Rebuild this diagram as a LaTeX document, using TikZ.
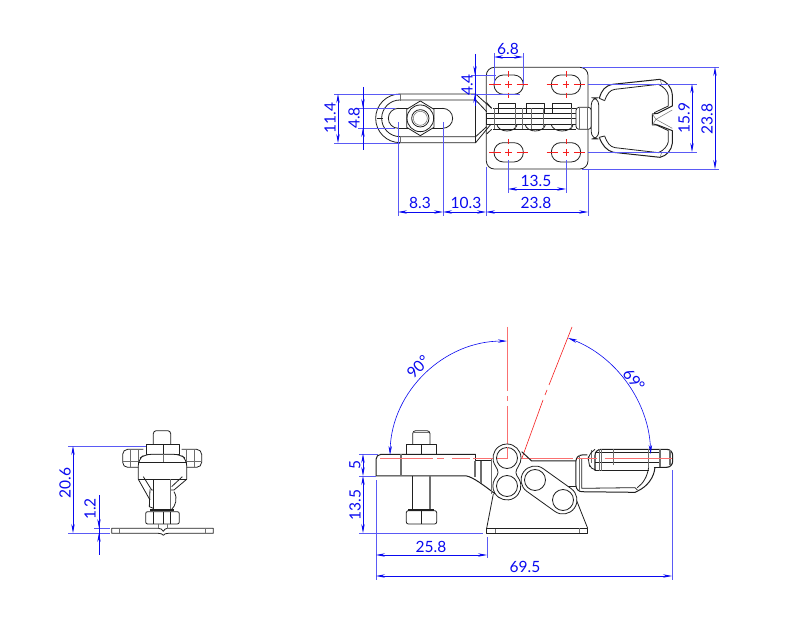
\documentclass[tikz,border=0pt]{standalone}
\usepackage{fontspec}
\setmainfont{Lato}
\usetikzlibrary{arrows.meta}
\definecolor{dimblue}{HTML}{0A0AF0}
\definecolor{extblue}{HTML}{5A5AF5}
\definecolor{cred}{HTML}{F51E1E}
\definecolor{pink}{HTML}{FA7070}
\definecolor{ink}{HTML}{202020}
\tikzset{
  part/.style={draw=ink,line width=.8pt,line join=round},
  thin part/.style={draw=ink!65,line width=.5pt},
  heavy/.style={draw=ink!65,line width=1.1pt},
  dimline/.style={draw=dimblue,line width=.6pt,{Stealth[length=9pt,width=3.4pt]}-{Stealth[length=9pt,width=3.4pt]}},
  arrowin/.style={draw=dimblue,line width=.6pt,-{Stealth[length=9pt,width=3.4pt]}},
  extline/.style={draw=extblue,line width=.55pt},
  axis/.style={draw=cred,line width=.6pt},
  paleaxis/.style={draw=pink,line width=.8pt},
  dimtext/.style={text=dimblue,font=\fontsize{15.5}{15.5}\selectfont,inner sep=0pt},
  vdim/.style={dimtext,rotate=90},
  zoomA/.style={shift={(310,30)},x=.3333pt,y=-.3333pt},
  zoomB/.style={shift={(470,30)},x=.3333pt,y=-.3333pt},
  zoomC/.style={shift={(340,420)},x=.3333pt,y=-.3333pt},
  zoomD/.style={shift={(500,420)},x=.3333pt,y=-.3333pt},
  zoomE/.style={shift={(50,420)},x=.3333pt,y=-.3333pt},
}
\begin{document}
\begin{tikzpicture}[x=1pt,y=-1pt]
\useasboundingbox (0,0) rectangle (798,644);
\fill[white] (0,0) rectangle (798,644);

% ---------- TOP VIEW: left plate
\begin{scope}[zoomA]
\draw[part] (270,192) -- (497,192) -- (545,235) (270,338) -- (497,338) -- (545,280);
\draw[part] (270,192) arc[start angle=-90,end angle=-270,radius=73];
\draw[part] (270,210) -- (497,210) -- (530,245) (270,320) -- (497,320) -- (530,290);
\draw[part] (270,210) arc[start angle=-90,end angle=-270,radius=55];
\draw[heavy] (272,192) -- (272,212) (272,318) -- (272,338);
\draw[part] (497,192) -- (497,338);
\draw[part] (200,265) -- (218,265);
\draw[part] (265,235) arc[start angle=-90,end angle=-270,radius=30] (398,235) arc[start angle=-90,end angle=90,radius=30];
\draw[part] (265,235) -- (398,235) (265,295) -- (398,295);
\draw[part,fill=white] (331,213) -- (372,238) -- (372,292) -- (331,317) -- (290,292) -- (290,238) -- cycle;
\draw[part] (331,265) circle[radius=40];
\draw[part] (331,265) circle[radius=26];
\draw[thin part] (331,265) circle[radius=21];
\end{scope}

% ---------- TOP VIEW: base plate, linkage, handle
\begin{scope}[zoomB]
\draw[part,rounded corners=8pt] (49,112) rectangle (354,417);
\foreach \cx/\cy in {116/164,288/164,116/367,288/367}{
  \draw[part,rounded corners=9.4pt] (\cx-44,\cy-29) rectangle (\cx+44,\cy+29);
  \draw[axis] (\cx-58,\cy) -- (\cx-24,\cy) (\cx-10,\cy) -- (\cx+10,\cy) (\cx+24,\cy) -- (\cx+58,\cy);
  \draw[axis] (\cx,\cy-40) -- (\cx,\cy-24) (\cx,\cy-10) -- (\cx,\cy+10) (\cx,\cy+24) -- (\cx,\cy+40);
}
% pins
\foreach \a/\b in {85/137,170/222,248/305}{
  \draw[part,fill=white] (\a,250) -- (\a,220) -- (\b,220) -- (\b,250);
  \draw[part,fill=white] (\a-5,282) .. controls (\a,310) and (\b,310) .. (\b+5,282);
}
\draw[part,fill=white] (50,250) rectangle (318,282);
\draw[part] (50,265) -- (318,265);
\draw[part] (70,235) -- (318,235) (70,298) -- (318,298);
\draw[part] (65,235) -- (50,218) (65,298) -- (50,312);
\foreach \v in {72,135,185,220,305}{\draw[thin part] (\v,235) -- (\v,298);}
\draw[heavy] (157,235) -- (157,298);
% neck and collar
\draw[part,fill=white,rounded corners=3pt] (318,232) rectangle (364,298);
\draw[thin part] (328,232) -- (328,298) (352,232) -- (352,298);
\draw[part,fill=white,rounded corners=7pt] (364,203) rectangle (386,327);
% handle
\draw[part,line width=1pt] (388,205) .. controls (395,180) and (405,168) .. (428,163) -- (570,148) .. controls (590,155) and (605,170) .. (607,195) -- (607,228) -- (563,250) -- (547,252) -- (547,285) -- (563,285) -- (607,302) -- (607,340) .. controls (605,360) and (590,378) .. (570,382) -- (430,367) .. controls (410,362) and (396,345) .. (388,322);
\draw[part] (404,212) .. controls (412,190) and (420,180) .. (435,178) -- (565,163) .. controls (582,170) and (594,185) .. (595,197) -- (595,228) -- (553,248);
\draw[part] (404,318) .. controls (412,340) and (420,350) .. (435,353) -- (565,368) .. controls (582,362) and (594,345) .. (595,335) -- (595,302) -- (553,282);
\draw[thin part] (570,148) -- (575,163) (570,382) -- (575,368) (547,252) -- (558,268) -- (547,285) (558,268) -- (607,240) (558,268) -- (607,295);
\draw[part] (388,205) -- (404,212) (388,322) -- (404,318);
\end{scope}

% ---------- TOP VIEW DIMENSIONS
\draw[extline] (334,94) -- (400,94) (334,143) -- (400,143);
\draw[dimline] (338,94) -- (338,143);
\node[vdim] (d114) at (330,118) {11.4};
\draw[extline] (358,108) -- (395,108) (358,128) -- (395,128);
\draw[draw=dimblue,line width=.6pt] (363,87) -- (363,150);
\draw[arrowin] (363,96) -- (363,108);
\draw[arrowin] (363,140) -- (363,128);
\node[vdim] (d48) at (354,118) {4.8};
\draw[extline] (471,75) -- (496,75) (471,94) -- (520,94);
\draw[draw=dimblue,line width=.6pt] (475,54) -- (475,102);
\draw[arrowin] (475,62) -- (475,75);
\draw[arrowin] (475,106) -- (475,94);
\node[vdim] (d44) at (467,85) {4.4};
\draw[extline] (398,122) -- (398,216) (443,122) -- (443,216);
\draw[extline] (486,167) -- (486,216) (588,169) -- (588,216);
\draw[dimline] (398,212) -- (443,212);
\draw[dimline] (443,212) -- (486,212);
\draw[dimline] (486,212) -- (588,212);
\node[dimtext] (d83) at (420,203) {8.3};
\node[dimtext] (d103) at (466,203) {10.3};
\node[dimtext] (d238h) at (536,203) {23.8};
\draw[extline] (508,160) -- (508,193) (566,160) -- (566,193);
\draw[dimline] (508,189) -- (566,189);
\node[dimtext] (d135t) at (536,181) {13.5};
\draw[extline] (494,53) -- (494,84) (523,53) -- (523,84);
\draw[dimline] (494,57) -- (523,57);
\node[dimtext] (d68) at (508,49) {6.8};
\draw[extline] (582,67) -- (719,67) (582,169) -- (719,169);
\draw[dimline] (715,67) -- (715,169);
\node[vdim] (d238v) at (707,119) {23.8};
\draw[extline] (588,84) -- (697,84) (588,152) -- (697,152);
\draw[dimline] (692,84) -- (692,152);
\node[vdim] (d159) at (684,118) {15.9};

% ---------- SIDE VIEW
% red axes
\draw[paleaxis] (507,327) -- (507,391) (507,396) -- (507,401) (507,406) -- (507,458) -- (573,458);
\draw[axis] (572,327) -- (549,385) (547,390) -- (545,395) (543,400) -- (522,458);
\begin{scope}[zoomC]
\draw[part,line width=1pt,rounded corners=5pt] (108,168) -- (108,103) -- (407,103);
\draw[part,line width=1pt] (407,103) -- (407,123) -- (455,123);
\draw[part,line width=1pt] (108,168) -- (380,168) .. controls (400,172) and (430,195) .. (466,222);
\draw[heavy] (183,103) -- (183,168) (405,123) -- (405,172) (423,123) -- (423,190) (455,115) -- (455,222);
% bolt
\draw[part,rounded corners=3pt] (218,73) -- (218,32) -- (270,32) -- (270,73);
\draw[thin part] (222,38) -- (266,38);
\draw[part] (199,73) rectangle (290,103);
\draw[part] (245,73) -- (245,103);
\draw[part,line width=1pt] (218,168) -- (218,270);
\draw[heavy] (270,168) -- (270,270);
\draw[part,rounded corners=2pt] (199,272) rectangle (290,312);
\draw[part] (245,272) -- (245,312);
\draw[part,line width=1.2pt] (205,270) -- (282,270);
% base left
\draw[part] (460,222) -- (440,325);
\draw[part] (540,325) -- (440,325) -- (440,340) -- (540,340);
\draw[thin part] (467,325) -- (467,340);
\end{scope}
\begin{scope}[zoomD]
\draw[part] (-40,325) -- (263,325) -- (263,340) -- (-40,340);
\draw[thin part] (237,325) -- (237,340);
\draw[part] (263,325) -- (222,222);
% handle bracket
\draw[part,line width=1pt] (65,95) -- (95,123) -- (228,123);
\draw[part,line width=1pt] (175,200) -- (228,200);
\draw[part,line width=1pt,rounded corners=6pt] (262,105) -- (228,105) -- (228,215) -- (405,217);
\draw[part] (245,115) -- (245,205) -- (405,203);
\draw[thin part] (238,105) -- (238,212);
\draw[part,line width=1pt] (405,217) -- (415,212) .. controls (440,200) and (462,175) .. (465,142);
\draw[part] (405,203) -- (412,210) (412,203) .. controls (430,190) and (442,170) .. (446,142);
% grip
\draw[part,line width=1.1pt,rounded corners=6pt] (285,152) -- (285,88) -- (518,88) -- (518,142) -- (482,142);
\draw[part] (285,152) -- (446,152) (462,142) -- (482,142);
\draw[part] (285,98) -- (480,98) (285,128) -- (480,128);
\draw[thin part] (275,90) -- (275,130) (298,88) -- (298,152) (305,88) -- (305,152) (340,88) -- (340,135) (445,88) -- (445,142);
\draw[heavy] (480,88) -- (480,142) (510,90) -- (510,135);
\draw[part,rounded corners=5pt] (285,150) -- (272,148) -- (265,125) -- (265,105) -- (285,88);
\draw[pink,line width=.8pt] (230,115) -- (290,115) (315,115) -- (517,115);
\end{scope}
\draw[paleaxis] (380,458) -- (433,458) (437,458) -- (444,458) (452,458) -- (470,458) (473,458) -- (507,458);

% lobes
\draw[part,fill=white] (507,444) arc[start angle=-90,end angle=35,radius=14] .. controls (515,472) and (515,473) .. (519,479) arc[start angle=-30,end angle=210,radius=14] .. controls (499,473) and (499,472) .. (495.5,466) arc[start angle=145,end angle=270,radius=14] -- cycle;
\draw[part] (507,458) circle[radius=10.5];
\draw[part] (507,486) circle[radius=10.5];
\draw[part,fill=white] (543.1,468.6) -- (571.1,488.6) arc[start angle=-54.5,end angle=125.5,radius=14] -- (526.9,491.4) arc[start angle=125.5,end angle=305.5,radius=14] -- cycle;
\draw[part] (535,480) circle[radius=10.5];
\draw[part] (563,500) circle[radius=10.5];
\draw[paleaxis] (497,458) -- (507,458) -- (507,447);

% ---------- SIDE VIEW DIMENSIONS
\draw[draw=dimblue,line width=.6pt,{Stealth[length=9pt,width=3.4pt]}-{Stealth[length=9pt,width=3.4pt]}] (390,455) arc[start angle=-178.5,end angle=-90,radius=117];
\draw[draw=dimblue,line width=.6pt,{Stealth[length=9pt,width=3.4pt]}-{Stealth[length=9pt,width=3.4pt]}] (568,338) arc[start angle=-69,end angle=-2,radius=129];
\node[dimtext,rotate=45] (a90) at (418,367) {90°};
\node[dimtext,rotate=-50] (a69) at (634,380) {69°};
\draw[extline] (359,454) -- (378,454) (359,476) -- (376,476) (359,533) -- (483,533);
\draw[dimline] (363,454) -- (363,476);
\draw[dimline] (363,476) -- (363,533);
\node[vdim] (d5) at (355,465) {5};
\node[vdim] (d135s) at (355,505) {13.5};
\draw[extline] (376,480) -- (376,580) (487,537) -- (487,558) (672,470) -- (672,580);
\draw[dimline] (376,555) -- (487,555);
\draw[dimline] (376,576) -- (672,576);
\node[dimtext] (d258) at (431,547) {25.8};
\node[dimtext] (d695) at (525,567) {69.5};

% ---------- FRONT VIEW
\begin{scope}[zoomE]
% grips
\foreach \s/\e in {218/280,455/395}{
  \draw[part,rounded corners=5pt] (\e,88) -- (\s,88) -- (\s,142) -- (\e,142);
}
\draw[thin part] (240,88) -- (240,142) (265,88) -- (265,135) (432,88) -- (432,142) (408,88) -- (408,135);
\draw[thin part] (218,125) -- (265,125) (455,125) -- (405,125);
% bolt and nut
\draw[part,rounded corners=3pt] (310,73) -- (310,32) -- (362,32) -- (362,73);
\draw[part,fill=white] (288,73) rectangle (388,103);
\draw[part] (340,73) -- (340,103);
% body
\draw[part,fill=white,rounded corners=6pt] (265,178) -- (265,118) -- (285,103) -- (390,103) -- (410,118) -- (410,178);
\draw[part] (265,127) -- (410,127);
\draw[part] (265,178) -- (410,178);
\draw[thin part] (340,103) -- (340,127);
% flanks
\draw[part] (265,178) -- (300,240) (410,178) -- (372,210) -- (362,210);
\draw[part] (280,170) -- (305,210) -- (310,210) (397,170) -- (365,200);
\draw[part] (300,208) -- (298,260) -- (310,265) (372,215) .. controls (385,235) and (375,260) .. (365,268);
% bolt shaft
\draw[part,line width=1pt] (310,178) -- (310,270);
\draw[heavy] (362,178) -- (362,270);
% lower nut
\draw[part,line width=1.1pt] (300,270) -- (372,270);
\draw[part,rounded corners=2pt] (287,275) rectangle (388,312);
\draw[part] (340,275) -- (340,312) (310,275) -- (310,312) (362,275) -- (362,312);
% base
\draw[part] (325,325) -- (185,325) -- (185,340) -- (325,340) .. controls (332,340) and (338,342) .. (340,346) .. controls (342,342) and (348,340) .. (355,340) -- (490,340) -- (490,325) -- (352,325);
\draw[part] (325,325) .. controls (332,325) and (337,328) .. (340,334) .. controls (343,328) and (347,325) .. (352,325);
\draw[thin part] (207,325) -- (207,340) (467,325) -- (467,340) (325,312) -- (325,325) (352,312) -- (352,325);
\end{scope}
\draw[extline] (68,446) -- (146,446) (68,533) -- (110,533) (94,528) -- (110,528);
\draw[dimline] (73,446) -- (73,533);
\node[vdim] (d206) at (65,483) {20.6};
\draw[draw=dimblue,line width=.6pt] (99,495) -- (99,555);
\draw[arrowin] (99,515) -- (99,528);
\draw[arrowin] (99,546) -- (99,533);
\node[vdim] (d12) at (90,509) {1.2};
\end{tikzpicture}
\end{document}
